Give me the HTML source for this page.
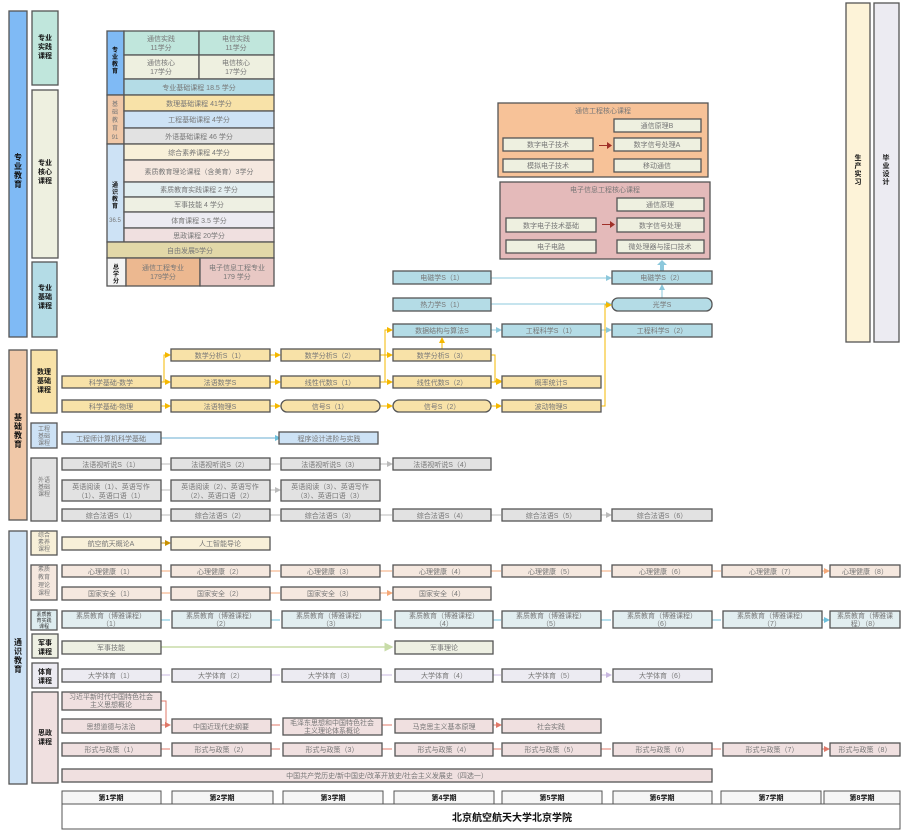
<!DOCTYPE html>
<html><head><meta charset="utf-8"><style>
html,body{margin:0;padding:0;background:#fff}
svg{display:block;font-family:"Liberation Sans","Noto Sans CJK SC",sans-serif}
.b rect,rect.b{stroke:#555;stroke-width:1.3}
text{font-size:7px;fill:#777;text-anchor:middle}
.k{fill:#111;font-weight:bold;font-size:8px}
</style></head><body>
<svg width="913" height="839" viewBox="0 0 913 839" xmlns="http://www.w3.org/2000/svg">
<defs>
<marker id="ay" markerWidth="6" markerHeight="6" refX="5" refY="3" orient="auto"><path d="M0,0L6,3L0,6z" fill="#f5b800"/></marker>
<marker id="ab" markerWidth="6" markerHeight="6" refX="5" refY="3" orient="auto"><path d="M0,0L6,3L0,6z" fill="#8cc8dc"/></marker>
<marker id="ag" markerWidth="6" markerHeight="6" refX="5" refY="3" orient="auto"><path d="M0,0L6,3L0,6z" fill="#bbb"/></marker>
<marker id="ao" markerWidth="6" markerHeight="6" refX="5" refY="3" orient="auto"><path d="M0,0L6,3L0,6z" fill="#f5a878"/></marker>
<marker id="ac" markerWidth="6" markerHeight="6" refX="5" refY="3" orient="auto"><path d="M0,0L6,3L0,6z" fill="#6cc0dc"/></marker>
<marker id="av" markerWidth="6" markerHeight="6" refX="5" refY="3" orient="auto"><path d="M0,0L6,3L0,6z" fill="#c8b8e0"/></marker>
<marker id="ar" markerWidth="6" markerHeight="6" refX="5" refY="3" orient="auto"><path d="M0,0L6,3L0,6z" fill="#e07868"/></marker>
<marker id="aG" markerWidth="6" markerHeight="6" refX="5" refY="3" orient="auto"><path d="M0,0L6,3L0,6z" fill="#c8dca8"/></marker>
<marker id="aD" markerWidth="6" markerHeight="6" refX="5" refY="3" orient="auto"><path d="M0,0L6,3L0,6z" fill="#c89000"/></marker>
</defs>

<!-- left category bars -->
<g class="b">
<rect x="9" y="11" width="18" height="326" fill="#7fbaf5"/>
<rect x="32" y="11" width="26" height="74" fill="#c0e6dc"/>
<rect x="32" y="90" width="26" height="168" fill="#eef0e0"/>
<rect x="32" y="262" width="25" height="75" fill="#b4dce6"/>
<rect x="9" y="350" width="18" height="170" fill="#f0c8a8"/>
<rect x="31" y="350" width="26" height="63" fill="#f8e2a8"/>
<rect x="31" y="423" width="26" height="25" fill="#cde2f5"/>
<rect x="31" y="458" width="26" height="63" fill="#e2e2e2"/>
<rect x="9" y="531" width="18" height="253" fill="#cde2f5"/>
<rect x="31" y="531" width="26" height="24" fill="#f8f0d8"/>
<rect x="31" y="565" width="26" height="35" fill="#f5e8df"/>
<rect x="31" y="610" width="26" height="20" fill="#deedf0"/>
<rect x="32" y="634" width="26" height="24" fill="#eef0e3"/>
<rect x="32" y="663" width="26" height="25" fill="#ecebf2"/>
<rect x="32" y="692" width="26" height="91" fill="#f0e0e0"/>
<rect x="846" y="3" width="24" height="339" fill="#fdf3d8"/>
<rect x="874" y="3" width="25" height="339" fill="#ecebf2"/>
</g>
<g class="k">
<text x="18" y="160" class="k"><tspan x="18">专</tspan><tspan x="18" dy="9">业</tspan><tspan x="18" dy="9">教</tspan><tspan x="18" dy="9">育</tspan></text>
<text x="45" y="40" class="k" style="font-size:7px"><tspan x="45">专业</tspan><tspan x="45" dy="9">实践</tspan><tspan x="45" dy="9">课程</tspan></text>
<text x="45" y="165" class="k" style="font-size:7px"><tspan x="45">专业</tspan><tspan x="45" dy="9">核心</tspan><tspan x="45" dy="9">课程</tspan></text>
<text x="45" y="290" class="k" style="font-size:7px"><tspan x="45">专业</tspan><tspan x="45" dy="9">基础</tspan><tspan x="45" dy="9">课程</tspan></text>
<text x="18" y="420" class="k"><tspan x="18">基</tspan><tspan x="18" dy="9">础</tspan><tspan x="18" dy="9">教</tspan><tspan x="18" dy="9">育</tspan></text>
<text x="44" y="374" class="k" style="font-size:7px"><tspan x="44">数理</tspan><tspan x="44" dy="9">基础</tspan><tspan x="44" dy="9">课程</tspan></text>
<text x="18" y="645" class="k"><tspan x="18">通</tspan><tspan x="18" dy="9">识</tspan><tspan x="18" dy="9">教</tspan><tspan x="18" dy="9">育</tspan></text>
<text x="45" y="645" class="k" style="font-size:7px"><tspan x="45">军事</tspan><tspan x="45" dy="9">课程</tspan></text>
<text x="45" y="674" class="k" style="font-size:7px"><tspan x="45">体育</tspan><tspan x="45" dy="9">课程</tspan></text>
<text x="45" y="735" class="k" style="font-size:7px"><tspan x="45">思政</tspan><tspan x="45" dy="9">课程</tspan></text>
<text x="858" y="160" class="k" style="font-size:7px"><tspan x="858">生</tspan><tspan x="858" dy="8">产</tspan><tspan x="858" dy="8">实</tspan><tspan x="858" dy="8">习</tspan></text>
<text x="886" y="160" class="k" style="font-size:7px"><tspan x="886">毕</tspan><tspan x="886" dy="8">业</tspan><tspan x="886" dy="8">设</tspan><tspan x="886" dy="8">计</tspan></text>
</g>
<text x="44" y="431" style="font-size:6px"><tspan x="44">工程</tspan><tspan x="44" dy="7">基础</tspan><tspan x="44" dy="7">课程</tspan></text>
<text x="44" y="482" style="font-size:6px"><tspan x="44">外语</tspan><tspan x="44" dy="7">基础</tspan><tspan x="44" dy="7">课程</tspan></text>
<text x="44" y="537" style="font-size:6px"><tspan x="44">综合</tspan><tspan x="44" dy="7">素养</tspan><tspan x="44" dy="7">课程</tspan></text>
<text x="44" y="571" style="font-size:6px"><tspan x="44">素质</tspan><tspan x="44" dy="8">教育</tspan><tspan x="44" dy="8">理论</tspan><tspan x="44" dy="8">课程</tspan></text>
<text x="44" y="616" style="font-size:5px;fill:#333"><tspan x="44">素质教</tspan><tspan x="44" dy="6">育实践</tspan><tspan x="44" dy="6">课程</tspan></text>

<!-- summary table -->
<g class="b">
<rect x="107" y="31" width="17" height="64" fill="#7fbaf5"/>
<rect x="124" y="31" width="75" height="24" fill="#c0e6dc"/><rect x="199" y="31" width="75" height="24" fill="#c0e6dc"/>
<rect x="124" y="55" width="75" height="24" fill="#eef0e0"/><rect x="199" y="55" width="75" height="24" fill="#eef0e0"/>
<rect x="124" y="79" width="150" height="16" fill="#b4dce6"/>
<rect x="107" y="95" width="17" height="49" fill="#f0c8a8"/>
<rect x="124" y="95" width="150" height="16" fill="#f8e2a8"/>
<rect x="124" y="111" width="150" height="17" fill="#cde2f5"/>
<rect x="124" y="128" width="150" height="16" fill="#e2e2e2"/>
<rect x="107" y="144" width="17" height="98" fill="#cde2f5"/>
<rect x="124" y="144" width="150" height="16" fill="#f8f0d8"/>
<rect x="124" y="160" width="150" height="22" fill="#f5e8df"/>
<rect x="124" y="182" width="150" height="15" fill="#e2eef0"/>
<rect x="124" y="197" width="150" height="15" fill="#eef0e3"/>
<rect x="124" y="212" width="150" height="16" fill="#ecebf2"/>
<rect x="124" y="228" width="150" height="14" fill="#f0e0e0"/>
<rect x="107" y="242" width="167" height="16" fill="#e2d8a8"/>
<rect x="107" y="258" width="19" height="28" fill="#f4f4f4"/>
<rect x="126" y="258" width="74" height="28" fill="#ecb890"/>
<rect x="200" y="258" width="74" height="28" fill="#e8c8c4"/>
</g>
<text x="161" y="41"><tspan x="161">通信实践</tspan><tspan x="161" dy="9">11学分</tspan></text>
<text x="236" y="41"><tspan x="236">电信实践</tspan><tspan x="236" dy="9">11学分</tspan></text>
<text x="161" y="65"><tspan x="161">通信核心</tspan><tspan x="161" dy="9">17学分</tspan></text>
<text x="236" y="65"><tspan x="236">电信核心</tspan><tspan x="236" dy="9">17学分</tspan></text>
<text x="199" y="90">专业基础课程 18.5 学分</text>
<text x="199" y="106">数理基础课程 41学分</text>
<text x="199" y="122">工程基础课程 4学分</text>
<text x="199" y="139">外语基础课程 46 学分</text>
<text x="199" y="155">综合素养课程 4学分</text>
<text x="199" y="174">素质教育理论课程（含美育）3学分</text>
<text x="199" y="192">素质教育实践课程 2 学分</text>
<text x="199" y="207">军事技能 4 学分</text>
<text x="199" y="223">体育课程 3.5 学分</text>
<text x="199" y="238">思政课程 20学分</text>
<text x="190" y="253">自由发展5学分</text>
<text x="163" y="270"><tspan x="163">通信工程专业</tspan><tspan x="163" dy="9">179学分</tspan></text>
<text x="237" y="270"><tspan x="237">电子信息工程专业</tspan><tspan x="237" dy="9">179 学分</tspan></text>
<text x="115" y="52" style="fill:#111;font-size:6px;font-weight:bold"><tspan x="115">专</tspan><tspan x="115" dy="7">业</tspan><tspan x="115" dy="7">教</tspan><tspan x="115" dy="7">育</tspan></text>
<text x="115" y="106" style="font-size:6px"><tspan x="115">基</tspan><tspan x="115" dy="8">础</tspan><tspan x="115" dy="8">教</tspan><tspan x="115" dy="8">育</tspan><tspan x="115" dy="9">91</tspan></text>
<text x="115" y="187" style="fill:#111;font-size:6px;font-weight:bold"><tspan x="115">通</tspan><tspan x="115" dy="7">识</tspan><tspan x="115" dy="7">教</tspan><tspan x="115" dy="7">育</tspan></text>
<text x="115" y="222" style="font-size:6px">36.5</text>
<text x="116" y="269" style="fill:#111;font-size:6px;font-weight:bold"><tspan x="116">总</tspan><tspan x="116" dy="7">学</tspan><tspan x="116" dy="7">分</tspan></text>

<!-- core course boxes -->
<g class="b">
<rect x="498" y="103" width="210" height="74" fill="#f7c298"/>
<rect x="500" y="182" width="210" height="77" fill="#e4baba"/>
</g>
<g class="b" fill="#eef0e0">
<rect x="614" y="119" width="87" height="13" fill="#eef0e0"/>
<rect x="503" y="138" width="90" height="13" fill="#eef0e0"/><rect x="614" y="138" width="87" height="13" fill="#eef0e0"/>
<rect x="503" y="159" width="90" height="13" fill="#eef0e0"/><rect x="614" y="159" width="87" height="13" fill="#eef0e0"/>
<rect x="617" y="198" width="87" height="13" fill="#eef0e0"/>
<rect x="506" y="218" width="90" height="14" fill="#eef0e0"/><rect x="617" y="218" width="87" height="14" fill="#eef0e0"/>
<rect x="506" y="240" width="90" height="13" fill="#eef0e0"/><rect x="617" y="240" width="87" height="13" fill="#eef0e0"/>
</g>
<text x="603" y="113">通信工程核心课程</text>
<text x="657" y="128">通信原理B</text>
<text x="548" y="147">数字电子技术</text><text x="657" y="147">数字信号处理A</text>
<text x="548" y="168">模拟电子技术</text><text x="657" y="168">移动通信</text>
<text x="605" y="192">电子信息工程核心课程</text>
<text x="660" y="207">通信原理</text>
<text x="551" y="228">数字电子技术基础</text><text x="660" y="228">数字信号处理</text>
<text x="551" y="249">电子电路</text><text x="660" y="249">微处理器与接口技术</text>
<path d="M599,145h8v-3l5,3.5l-5,3.5v-3h-8z" fill="#a03028"/>
<path d="M602,224h8v-3l5,3.5l-5,3.5v-3h-8z" fill="#a03028"/>

<!-- blue physics/eng -->
<g stroke="#8cc8dc" stroke-width="1" fill="none">
<line x1="491" y1="278" x2="611" y2="278" marker-end="url(#ab)"/>
<line x1="491" y1="304" x2="611" y2="304" marker-end="url(#ab)"/>
<line x1="491" y1="330" x2="501" y2="330" marker-end="url(#ab)"/>
<line x1="601" y1="330" x2="611" y2="330" marker-end="url(#ab)"/>
<line x1="662" y1="298" x2="662" y2="285" marker-end="url(#ab)"/>
</g>
<path d="M660,271v-6h-3l5,-5l5,5h-3v6z" fill="#8cc8dc"/>
<g class="b" fill="#b4dce6">
<rect x="393" y="271" width="98" height="13" fill="#b4dce6"/>
<rect x="612" y="271" width="100" height="13" fill="#b4dce6"/>
<rect x="393" y="298" width="98" height="13" fill="#b4dce6"/>
<rect x="612" y="298" width="100" height="13" rx="6" fill="#b4dce6"/>
<rect x="393" y="324" width="98" height="13" fill="#b4dce6"/>
<rect x="502" y="324" width="99" height="13" fill="#b4dce6"/>
<rect x="612" y="324" width="100" height="13" fill="#b4dce6"/>
</g>
<text x="442" y="280">电磁学S（1）</text><text x="662" y="280">电磁学S（2）</text>
<text x="442" y="307">热力学S（1）</text><text x="662" y="307">光学S</text>
<text x="442" y="333">数据结构与算法S</text><text x="551" y="333">工程科学S（1）</text><text x="662" y="333">工程科学S（2）</text>

<!-- yellow arrows -->
<g stroke="#f5b800" stroke-width="1" fill="none">
<line x1="161" y1="382" x2="170" y2="382" marker-end="url(#ay)"/>
<path d="M164,382V355h6" marker-end="url(#ay)"/>
<line x1="270" y1="355" x2="280" y2="355" marker-end="url(#ay)"/>
<line x1="270" y1="382" x2="280" y2="382" marker-end="url(#ay)"/>
<line x1="380" y1="355" x2="392" y2="355" marker-end="url(#ay)"/>
<line x1="380" y1="382" x2="392" y2="382" marker-end="url(#ay)"/>
<path d="M385,382V330h7" marker-end="url(#ay)"/>
<line x1="442" y1="349" x2="442" y2="338" marker-end="url(#ay)"/>
<path d="M491,355h4v26h6" marker-end="url(#ay)"/>
<line x1="491" y1="382" x2="501" y2="382" marker-end="url(#ay)"/>
<line x1="161" y1="406" x2="170" y2="406" marker-end="url(#ay)"/>
<line x1="270" y1="406" x2="280" y2="406" marker-end="url(#ay)"/>
<line x1="380" y1="406" x2="392" y2="406" marker-end="url(#ay)"/>
<line x1="491" y1="406" x2="501" y2="406" marker-end="url(#ay)"/>
<path d="M601,406h4V305h6" marker-end="url(#ay)"/>
</g>
<g class="b" fill="#f8e2a8">
<rect x="171" y="349" width="99" height="12" fill="#f8e2a8"/>
<rect x="281" y="349" width="99" height="12" fill="#f8e2a8"/>
<rect x="393" y="349" width="98" height="12" fill="#f8e2a8"/>
<rect x="62" y="376" width="99" height="12" fill="#f8e2a8"/>
<rect x="171" y="376" width="99" height="12" fill="#f8e2a8"/>
<rect x="281" y="376" width="99" height="12" fill="#f8e2a8"/>
<rect x="393" y="376" width="98" height="12" fill="#f8e2a8"/>
<rect x="502" y="376" width="99" height="12" fill="#f8e2a8"/>
<rect x="62" y="400" width="99" height="12" fill="#f8e2a8"/>
<rect x="171" y="400" width="99" height="12" fill="#f8e2a8"/>
<rect x="281" y="400" width="99" height="12" rx="6" fill="#f8e2a8"/>
<rect x="393" y="400" width="98" height="12" rx="6" fill="#f8e2a8"/>
<rect x="502" y="400" width="99" height="12" fill="#f8e2a8"/>
</g>
<text x="220" y="358">数学分析S（1）</text><text x="330" y="358">数学分析S（2）</text><text x="442" y="358">数学分析S（3）</text>
<text x="111" y="385">科学基础-数学</text><text x="220" y="385">法语数学S</text><text x="330" y="385">线性代数S（1）</text><text x="442" y="385">线性代数S（2）</text><text x="551" y="385">概率统计S</text>
<text x="111" y="409">科学基础-物理</text><text x="220" y="409">法语物理S</text><text x="330" y="409">信号S（1）</text><text x="442" y="409">信号S（2）</text><text x="551" y="409">波动物理S</text>

<!-- eng basics -->
<line x1="161" y1="438" x2="280" y2="438" stroke="#6aaed0" marker-end="url(#ac)"/>
<g class="b"><rect x="62" y="432" width="99" height="12" fill="#cde2f5"/><rect x="279" y="432" width="99" height="12" fill="#cde2f5"/></g>
<text x="111" y="441">工程师计算机科学基础</text><text x="329" y="441">程序设计进阶与实践</text>

<!-- generic row arrows -->
<g stroke-width="1" fill="none">
<g stroke="#bbb">
<path d="M161,464h9M270,464h10M380,464h12" marker-end="url(#ag)"/>
<path d="M161,490h9M270,490h10" marker-end="url(#ag)"/>
<path d="M161,515h9M270,515h10M380,515h12M491,515h10M601,515h10" marker-end="url(#ag)"/>
</g>
<path d="M161,543h9" stroke="#c89000" marker-end="url(#aD)"/>
<g stroke="#f5a878"><path d="M161,571h9M270,571h10M380,571h12M491,571h10M601,571h10M712,571h9M822,571h7" marker-end="url(#ao)"/>
<path d="M161,593h9M270,593h10M380,593h12" marker-end="url(#ao)"/></g>
<g stroke="#6cc0dc"><path d="M161,620h9M270,620h10M380,620h12M491,620h10M601,620h10M712,620h9M822,620h7" marker-end="url(#ac)"/></g>
<path d="M161,647H392" stroke="#c8dca8" stroke-width="1.5" marker-end="url(#aG)"/>
<g stroke="#c8b8e0"><path d="M161,675h9M270,675h10M380,675h12M491,675h10M601,675h10" marker-end="url(#av)"/></g>
<g stroke="#e07868"><path d="M161,701h5V725h4" marker-end="url(#ar)"/>
<path d="M161,725h9M270,725h10M380,725h12M491,725h10" marker-end="url(#ar)"/>
<path d="M161,749h9M270,749h10M380,749h12M491,749h10M601,749h10M712,749h9M822,749h7" marker-end="url(#ar)"/></g>
</g>

<g class="b">
<g fill="#e2e2e2">
<rect x="62" y="458" width="99" height="12"/><rect x="171" y="458" width="99" height="12"/><rect x="281" y="458" width="99" height="12"/><rect x="393" y="458" width="98" height="12"/>
<rect x="62" y="480" width="99" height="21"/><rect x="171" y="480" width="99" height="21"/><rect x="281" y="480" width="99" height="21"/>
<rect x="62" y="509" width="99" height="12"/><rect x="171" y="509" width="99" height="12"/><rect x="281" y="509" width="99" height="12"/><rect x="393" y="509" width="98" height="12"/><rect x="502" y="509" width="99" height="12"/><rect x="612" y="509" width="100" height="12"/>
</g>
<g fill="#f8f0d8"><rect x="62" y="537" width="99" height="13"/><rect x="171" y="537" width="99" height="13"/></g>
<g fill="#f5e8df">
<rect x="62" y="565" width="99" height="12"/><rect x="171" y="565" width="99" height="12"/><rect x="281" y="565" width="99" height="12"/><rect x="393" y="565" width="98" height="12"/><rect x="502" y="565" width="99" height="12"/><rect x="612" y="565" width="100" height="12"/><rect x="722" y="565" width="100" height="12"/><rect x="830" y="565" width="70" height="12"/>
<rect x="62" y="587" width="99" height="13"/><rect x="171" y="587" width="99" height="13"/><rect x="281" y="587" width="99" height="13"/><rect x="393" y="587" width="98" height="13"/>
</g>
<g fill="#e2eef0">
<rect x="62" y="611" width="99" height="17"/><rect x="172" y="611" width="99" height="17"/><rect x="282" y="611" width="99" height="17"/><rect x="395" y="611" width="98" height="17"/><rect x="502" y="611" width="99" height="17"/><rect x="613" y="611" width="99" height="17"/><rect x="723" y="611" width="99" height="17"/><rect x="830" y="611" width="70" height="17"/>
</g>
<g fill="#eef0e3"><rect x="62" y="641" width="99" height="13"/><rect x="395" y="641" width="98" height="13"/></g>
<g fill="#ecebf2"><rect x="62" y="669" width="99" height="13"/><rect x="172" y="669" width="99" height="13"/><rect x="282" y="669" width="99" height="13"/><rect x="395" y="669" width="98" height="13"/><rect x="502" y="669" width="99" height="13"/><rect x="613" y="669" width="99" height="13"/></g>
<g fill="#f0e0e0">
<rect x="62" y="692" width="99" height="18"/>
<rect x="62" y="719" width="99" height="14"/><rect x="172" y="719" width="99" height="14"/><rect x="283" y="718" width="99" height="17"/><rect x="395" y="719" width="98" height="14"/><rect x="502" y="719" width="99" height="14"/>
<rect x="62" y="743" width="99" height="13"/><rect x="172" y="743" width="99" height="13"/><rect x="283" y="743" width="99" height="13"/><rect x="395" y="743" width="98" height="13"/><rect x="502" y="743" width="99" height="13"/><rect x="613" y="743" width="99" height="13"/><rect x="723" y="743" width="99" height="13"/><rect x="830" y="743" width="70" height="13"/>
<rect x="62" y="769" width="650" height="13"/>
</g>
</g>
<text x="111" y="467">法语视听说S（1）</text><text x="220" y="467">法语视听说S（2）</text><text x="330" y="467">法语视听说S（3）</text><text x="442" y="467">法语视听说S（4）</text>
<text x="111" y="489"><tspan x="111">英语阅读（1）、英语写作</tspan><tspan x="111" dy="9">（1）、英语口语（1）</tspan></text>
<text x="220" y="489"><tspan x="220">英语阅读（2）、英语写作</tspan><tspan x="220" dy="9">（2）、英语口语（2）</tspan></text>
<text x="330" y="489"><tspan x="330">英语阅读（3）、英语写作</tspan><tspan x="330" dy="9">（3）、英语口语（3）</tspan></text>
<text x="111" y="518">综合法语S（1）</text><text x="220" y="518">综合法语S（2）</text><text x="330" y="518">综合法语S（3）</text><text x="442" y="518">综合法语S（4）</text><text x="551" y="518">综合法语S（5）</text><text x="662" y="518">综合法语S（6）</text>
<text x="111" y="546">航空航天概论A</text><text x="220" y="546">人工智能导论</text>
<text x="111" y="574">心理健康（1）</text><text x="220" y="574">心理健康（2）</text><text x="330" y="574">心理健康（3）</text><text x="442" y="574">心理健康（4）</text><text x="551" y="574">心理健康（5）</text><text x="662" y="574">心理健康（6）</text><text x="772" y="574">心理健康（7）</text><text x="865" y="574">心理健康（8）</text>
<text x="111" y="596">国家安全（1）</text><text x="220" y="596">国家安全（2）</text><text x="330" y="596">国家安全（3）</text><text x="442" y="596">国家安全（4）</text>
<text x="111" y="618"><tspan x="111">素质教育（博雅课程）</tspan><tspan x="111" dy="8">（1）</tspan></text>
<text x="221" y="618"><tspan x="221">素质教育（博雅课程）</tspan><tspan x="221" dy="8">（2）</tspan></text>
<text x="331" y="618"><tspan x="331">素质教育（博雅课程）</tspan><tspan x="331" dy="8">（3）</tspan></text>
<text x="444" y="618"><tspan x="444">素质教育（博雅课程）</tspan><tspan x="444" dy="8">（4）</tspan></text>
<text x="551" y="618"><tspan x="551">素质教育（博雅课程）</tspan><tspan x="551" dy="8">（5）</tspan></text>
<text x="662" y="618"><tspan x="662">素质教育（博雅课程）</tspan><tspan x="662" dy="8">（6）</tspan></text>
<text x="772" y="618"><tspan x="772">素质教育（博雅课程）</tspan><tspan x="772" dy="8">（7）</tspan></text>
<text x="865" y="618"><tspan x="865">素质教育（博雅课</tspan><tspan x="865" dy="8">程）（8）</tspan></text>
<text x="111" y="650">军事技能</text><text x="444" y="650">军事理论</text>
<text x="111" y="678">大学体育（1）</text><text x="221" y="678">大学体育（2）</text><text x="331" y="678">大学体育（3）</text><text x="444" y="678">大学体育（4）</text><text x="551" y="678">大学体育（5）</text><text x="662" y="678">大学体育（6）</text>
<text x="111" y="699"><tspan x="111">习近平新时代中国特色社会</tspan><tspan x="111" dy="8">主义思想概论</tspan></text>
<text x="111" y="729">思想道德与法治</text><text x="221" y="729">中国近现代史纲要</text>
<text x="332" y="725"><tspan x="332">毛泽东思想和中国特色社会</tspan><tspan x="332" dy="8">主义理论体系概论</tspan></text>
<text x="444" y="729">马克思主义基本原理</text><text x="551" y="729">社会实践</text>
<text x="111" y="752">形式与政策（1）</text><text x="221" y="752">形式与政策（2）</text><text x="332" y="752">形式与政策（3）</text><text x="444" y="752">形式与政策（4）</text><text x="551" y="752">形式与政策（5）</text><text x="662" y="752">形式与政策（6）</text><text x="772" y="752">形式与政策（7）</text><text x="865" y="752">形式与政策（8）</text>
<text x="387" y="778">中国共产党历史/新中国史/改革开放史/社会主义发展史（四选一）</text>

<!-- semesters -->
<g stroke="#555" stroke-width="1" fill="#f6f6f6">
<rect x="62" y="791" width="99" height="13"/><rect x="172" y="791" width="101" height="13"/><rect x="283" y="791" width="100" height="13"/><rect x="394" y="791" width="100" height="13"/><rect x="502" y="791" width="100" height="13"/><rect x="613" y="791" width="99" height="13"/><rect x="721" y="791" width="100" height="13"/><rect x="824" y="791" width="76" height="13"/>
<rect x="62" y="804" width="838" height="25" fill="#fff"/>
</g>
<g style="fill:#111;font-weight:bold;font-size:7px">
<text x="111" y="800" style="fill:#111">第1学期</text><text x="222" y="800" style="fill:#111">第2学期</text><text x="333" y="800" style="fill:#111">第3学期</text><text x="444" y="800" style="fill:#111">第4学期</text><text x="552" y="800" style="fill:#111">第5学期</text><text x="662" y="800" style="fill:#111">第6学期</text><text x="771" y="800" style="fill:#111">第7学期</text><text x="862" y="800" style="fill:#111">第8学期</text>
</g>
<text x="512" y="821" style="fill:#111;font-weight:bold;font-size:10px">北京航空航天大学北京学院</text>
</svg>
</body></html>
